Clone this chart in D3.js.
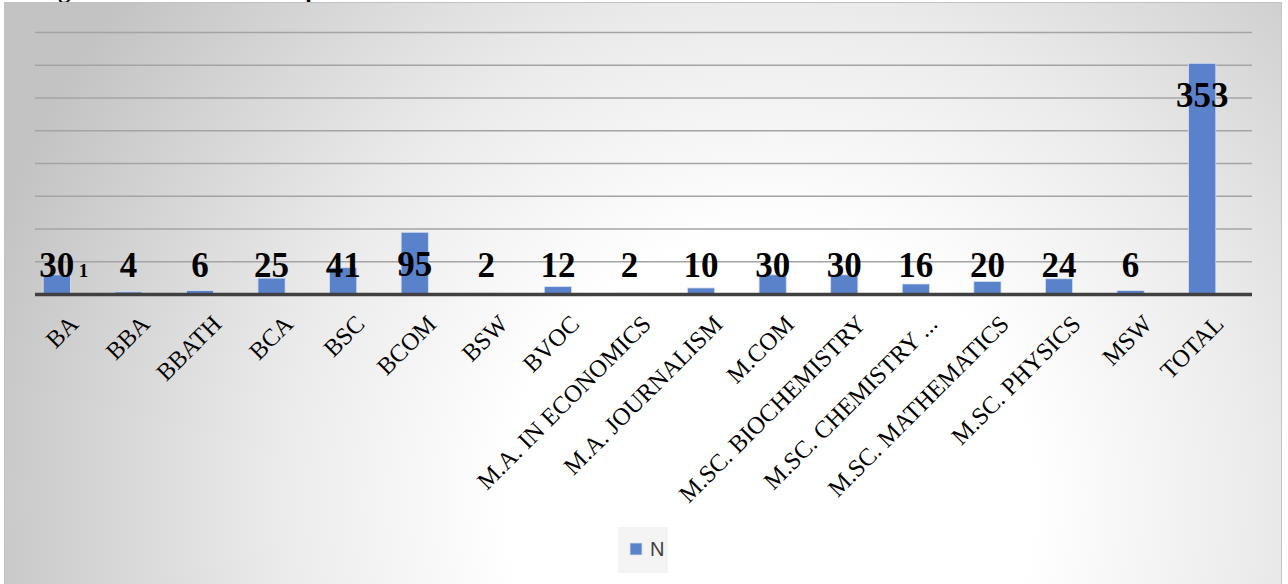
<!DOCTYPE html>
<html>
<head>
<meta charset="utf-8">
<script src="https://cdn.jsdelivr.net/npm/d3@7"></script>
<style>
  html, body { margin: 0; padding: 0; background: #ffffff; }
  svg { display: block; }
</style>
</head>
<body>
<div id="chart"></div>
<script>
// ---- data ----
const categories = ["BA", "BBA", "BBATH", "BCA", "BSC", "BCOM", "BSW", "BVOC",
  "M.A. IN ECONOMICS", "M.A. JOURNALISM", "M.COM", "M.SC. BIOCHEMISTRY",
  "M.SC. CHEMISTRY ...", "M.SC. MATHEMATICS", "M.SC. PHYSICS", "MSW", "TOTAL"];
const values = [30, 4, 6, 25, 41, 95, 2, 12, 2, 10, 30, 30, 16, 20, 24, 6, 353];
const yTicks = [0, 50, 100, 150, 200, 250, 300, 350, 400];
const seriesName = "N";
const titleText = "Figure 3: Course-wise Respondents";

// ---- layout ----
const W = 1288, H = 584;
const svg = d3.select("#chart").append("svg").attr("width", W).attr("height", H);

const defs = svg.append("defs");
const grad = defs.append("radialGradient").attr("id", "bg")
  .attr("gradientUnits", "userSpaceOnUse")
  .attr("cx", 770).attr("cy", 500).attr("r", 820);
[[0, "#ffffff"], [0.32, "#ffffff"], [0.6, "#ebebeb"], [0.85, "#d2d2d2"], [1, "#c3c3c3"]]
  .forEach(([o, c]) => grad.append("stop").attr("offset", o).attr("stop-color", c));

// title above the chart frame (only its descenders peek out, as in the source)
svg.append("text").attr("x", 37).attr("y", -2)
  .attr("font-family", "'Liberation Serif', serif").attr("font-weight", "bold")
  .attr("font-size", 24).attr("fill", "#000").text(titleText);

svg.append("rect").attr("x", 4.5).attr("y", 2.5).attr("width", 1277).attr("height", 600)
  .attr("fill", "url(#bg)").attr("stroke", "#c2c2c2").attr("stroke-width", 1);

const x = d3.scaleBand().domain(categories).range([21, 1238])
  .paddingInner(0.62).paddingOuter(0.31);
const y = d3.scaleLinear().domain([0, 400]).range([294.5, 32.5]);
const gridX0 = 35, gridX1 = 1252;

// gridlines
svg.append("g").selectAll("line").data(yTicks.filter(t => t > 0)).join("line")
  .attr("x1", gridX0).attr("x2", gridX1)
  .attr("y1", d => y(d)).attr("y2", d => y(d))
  .attr("stroke", "#a4a4a4").attr("stroke-width", 1.3);

// bars
svg.append("g").selectAll("rect").data(values).join("rect")
  .attr("x", (d, i) => x(categories[i]))
  .attr("y", d => y(d))
  .attr("width", x.bandwidth())
  .attr("height", d => y(0) - y(d))
  .attr("fill", "#5a82ca")
  .attr("stroke", "#d7e0f0").attr("stroke-width", 0.8);

// x axis line
svg.append("line").attr("x1", gridX0).attr("x2", gridX1)
  .attr("y1", y(0)).attr("y2", y(0))
  .attr("stroke", "#404040").attr("stroke-width", 3.5);

// data labels
const labelY = d => Math.min(y(d) + 43.5, y(0) - 17.5);
svg.append("g").selectAll("text").data(values).join("text")
  .attr("x", (d, i) => x(categories[i]) + x.bandwidth() / 2)
  .attr("y", d => labelY(d))
  .attr("text-anchor", "middle")
  .attr("font-family", "'Liberation Serif', serif").attr("font-weight", "bold")
  .attr("font-size", 35).attr("fill", "#000")
  .text(d => d);
// stray small "1" next to the first label
svg.append("text")
  .attr("x", x(categories[0]) + x.bandwidth() / 2 + 22)
  .attr("y", labelY(values[0]))
  .attr("font-family", "'Liberation Serif', serif").attr("font-weight", "bold")
  .attr("font-size", 19).attr("fill", "#000").text("1");

// category labels
const xAxis = svg.append("g").attr("transform", `translate(0,${y(0)})`)
  .call(d3.axisBottom(x).tickSize(0).tickPadding(0));
xAxis.select(".domain").remove();
xAxis.selectAll("text")
  .attr("font-family", "'Liberation Serif', serif").attr("font-size", 24.5)
  .attr("fill", "#000")
  .attr("text-anchor", "end")
  .attr("dy", 0)
  .attr("transform", "translate(23,31) rotate(-45)");

// legend
const lg = svg.append("g").attr("transform", "translate(618,527)");
lg.append("rect").attr("width", 50).attr("height", 46).attr("fill", "#f4f4f4");
lg.append("rect").attr("x", 12).attr("y", 16).attr("width", 12).attr("height", 12)
  .attr("fill", "#5a82ca").attr("stroke", "#d7e0f0").attr("stroke-width", 0.8);
lg.append("text").attr("x", 32).attr("y", 29)
  .attr("font-family", "'Liberation Sans', Arial, sans-serif").attr("font-size", 20)
  .attr("fill", "#404040").text(seriesName);
</script>
</body>
</html>
